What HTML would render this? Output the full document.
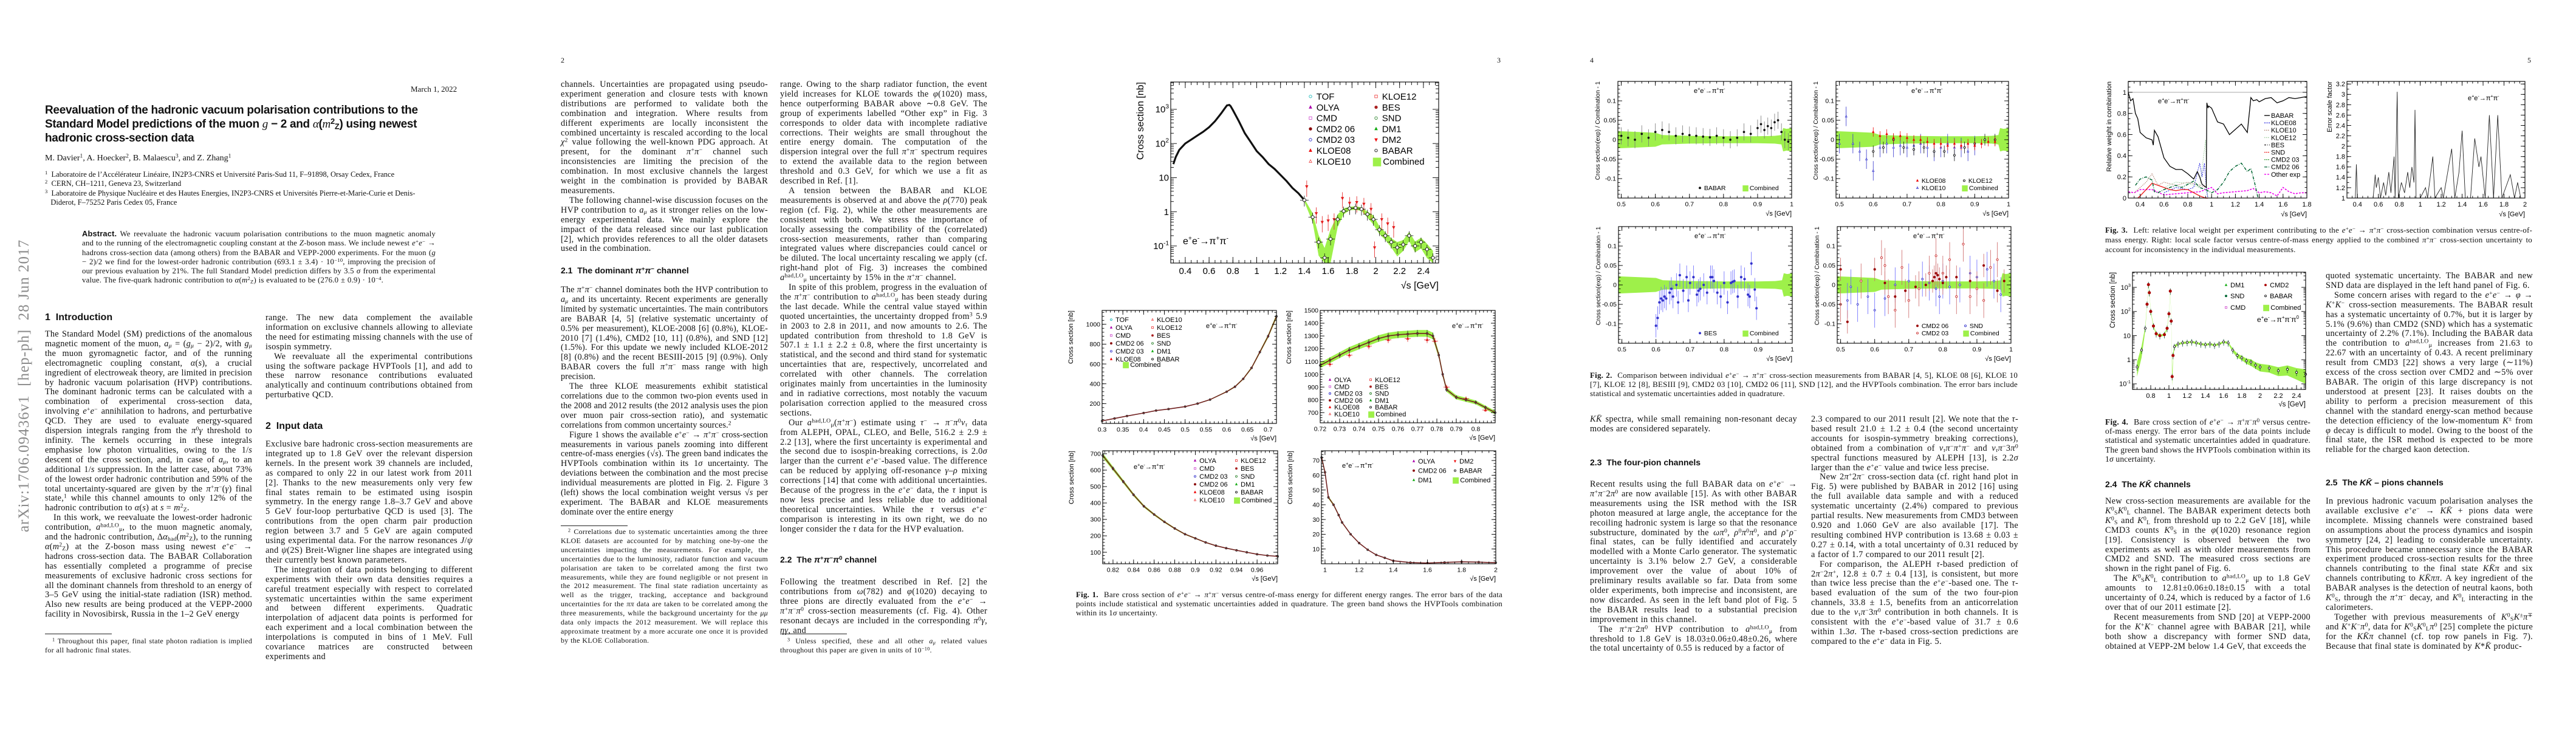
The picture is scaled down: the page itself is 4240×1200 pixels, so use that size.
<!DOCTYPE html>
<html><head><meta charset="utf-8">
<style>
html,body{margin:0;padding:0;background:#fff;}
body{width:4240px;height:1200px;position:relative;overflow:hidden;font-family:"Liberation Serif",serif;color:#111;}
.abs{position:absolute;}
.txt{position:absolute;width:341px;font-size:14.3px;line-height:15.9px;text-align:justify;hyphens:auto;letter-spacing:0.3px;word-spacing:0.3px;}
.txt p{margin:0;text-indent:14px;}
.txt p.ni{text-indent:0;}
.fn{position:absolute;width:341px;font-size:12px;line-height:14.9px;text-align:justify;letter-spacing:0.3px;word-spacing:0.3px;}
.fn p{margin:0;text-indent:12px;}
.rule{position:absolute;width:110px;border-top:1px solid #222;}
.h{position:absolute;font-family:"Liberation Sans",sans-serif;font-weight:bold;font-size:14px;line-height:16px;white-space:nowrap;}
.h1{font-size:16px;}
.cap{position:absolute;font-size:13px;line-height:14.8px;text-align:justify;letter-spacing:0.2px;}
.cap b{font-weight:bold;}
sup{font-size:68%;line-height:0;vertical-align:0.45em;}
sub{font-size:68%;line-height:0;vertical-align:-0.2em;}
i{font-style:italic;}
.pn{position:absolute;font-size:12px;top:92px;}
</style></head>
<body>
<div class="abs" style="left:40px;top:635px;width:540px;margin-left:-270px;margin-top:-14px;transform:rotate(-90deg);font-size:25px;color:#8a8a8a;letter-spacing:1px;white-space:nowrap;text-align:center;">arXiv:1706.09436v1&nbsp; [hep-ph]&nbsp; 28 Jun 2017</div>

<!-- PAGE 1 -->
<div class="abs" style="left:676px;top:139px;font-size:13px;">March 1, 2022</div>
<div class="abs" style="left:74px;top:170px;width:690px;font-family:'Liberation Sans',sans-serif;font-weight:bold;font-size:19px;line-height:23px;letter-spacing:-0.3px;">Reevaluation of the hadronic vacuum polarisation contributions to the Standard Model predictions of the muon <i style="font-family:'Liberation Serif',serif;font-weight:normal">g</i> − 2 and <i style="font-family:'Liberation Serif',serif;font-weight:normal">α</i>(<i style="font-family:'Liberation Serif',serif;font-weight:normal">m</i><sup>2</sup><sub>Z</sub>) using newest hadronic cross-section data</div>
<div class="abs" style="left:74px;top:253px;font-size:14px;">M. Davier<sup>1</sup>, A. Hoecker<sup>2</sup>, B. Malaescu<sup>3</sup>, and Z. Zhang<sup>1</sup></div>
<div class="abs" style="left:74px;top:280px;width:705px;font-size:12.5px;line-height:15.4px;">
<div><sup>1</sup>&nbsp; Laboratoire de l’Accélérateur Linéaire, IN2P3-CNRS et Université Paris-Sud 11, F–91898, Orsay Cedex, France</div>
<div><sup>2</sup>&nbsp; CERN, CH–1211, Geneva 23, Switzerland</div>
<div><sup>3</sup>&nbsp; Laboratoire de Physique Nucléaire et des Hautes Energies, IN2P3-CNRS et Universités Pierre-et-Marie-Curie et Denis-<br>&nbsp;&nbsp;&nbsp;Diderot, F–75252 Paris Cedex 05, France</div></div>
<div class="abs" style="left:135px;top:377px;width:582px;font-size:12.8px;line-height:15.3px;text-align:justify;letter-spacing:0.2px;word-spacing:0.3px;"><b style="font-family:'Liberation Sans',sans-serif;">Abstract.</b> We reevaluate the hadronic vacuum polarisation contributions to the muon magnetic anomaly and to the running of the electromagnetic coupling constant at the <i>Z</i>-boson mass. We include newest <i>e</i><sup>+</sup><i>e</i><sup>−</sup> → hadrons cross-section data (among others) from the BABAR and VEPP-2000 experiments. For the muon (<i>g</i> − 2)/2 we find for the lowest-order hadronic contribution (693.1 ± 3.4) · 10<sup>−10</sup>, improving the precision of our previous evaluation by 21%. The full Standard Model prediction differs by 3.5 <i>σ</i> from the experimental value. The five-quark hadronic contribution to <i>α</i>(<i>m</i><sup>2</sup><sub>Z</sub>) is evaluated to be (276.0 ± 0.9) · 10<sup>−4</sup>.</div>

<div class="h h1" style="left:74px;top:515px;">1&nbsp; Introduction</div>
<div class="txt" style="left:74px;top:543px;letter-spacing:0.2px;"><p class="ni">The Standard Model (SM) predictions of the anomalous magnetic moment of the muon, <i>a<sub>μ</sub></i> = (<i>g<sub>μ</sub></i> − 2)/2, with <i>g<sub>μ</sub></i> the muon gyromagnetic factor, and of the running electromagnetic coupling constant, <i>α</i>(<i>s</i>), a crucial ingredient of electroweak theory, are limited in precision by hadronic vacuum polarisation (HVP) contributions. The dominant hadronic terms can be calculated with a combination of experimental cross-section data, involving <i>e</i><sup>+</sup><i>e</i><sup>−</sup> annihilation to hadrons, and perturbative QCD. They are used to evaluate energy-squared dispersion integrals ranging from the <i>π</i><sup>0</sup><i>γ</i> threshold to infinity. The kernels occurring in these integrals emphasise low photon virtualities, owing to the 1/<i>s</i> descent of the cross section, and, in case of <i>a<sub>μ</sub></i>, to an additional 1/<i>s</i> suppression. In the latter case, about 73% of the lowest order hadronic contribution and 59% of the total uncertainty-squared are given by the <i>π</i><sup>+</sup><i>π</i><sup>−</sup>(<i>γ</i>) final state,<sup>1</sup> while this channel amounts to only 12% of the hadronic contribution to <i>α</i>(<i>s</i>) at <i>s</i> = <i>m</i><sup>2</sup><sub>Z</sub>.</p><p>In this work, we reevaluate the lowest-order hadronic contribution, <i>a</i><sup>had,LO</sup><sub>μ</sub>, to the muon magnetic anomaly, and the hadronic contribution, Δ<i>α</i><sub>had</sub>(<i>m</i><sup>2</sup><sub>Z</sub>), to the running <i>α</i>(<i>m</i><sup>2</sup><sub>Z</sub>) at the Z-boson mass using newest <i>e</i><sup>+</sup><i>e</i><sup>−</sup> → hadrons cross-section data. The BABAR Collaboration has essentially completed a programme of precise measurements of exclusive hadronic cross sections for all the dominant channels from threshold to an energy of 3–5 GeV using the initial-state radiation (ISR) method. Also new results are being produced at the VEPP-2000 facility in Novosibirsk, Russia in the 1–2 GeV energy</p></div>
<div class="rule" style="left:74px;top:1043px;"></div>
<div class="fn" style="left:74px;top:1048px;"><p><sup>1</sup> Throughout this paper, final state photon radiation is implied for all hadronic final states.</p></div>

<div class="txt" style="left:437px;top:516px;"><p class="ni">range. The new data complement the available information on exclusive channels allowing to alleviate the need for estimating missing channels with the use of isospin symmetry.</p><p>We reevaluate all the experimental contributions using the software package HVPTools [1], and add to these narrow resonance contributions evaluated analytically and continuum contributions obtained from perturbative QCD.</p></div>
<div class="h h1" style="left:437px;top:694px;">2&nbsp; Input data</div>
<div class="txt" style="left:437px;top:724px;"><p class="ni">Exclusive bare hadronic cross-section measurements are integrated up to 1.8 GeV over the relevant dispersion kernels. In the present work 39 channels are included, as compared to only 22 in our latest work from 2011 [2]. Thanks to the new measurements only very few final states remain to be estimated using isospin symmetry. In the energy range 1.8–3.7 GeV and above 5 GeV four-loop perturbative QCD is used [3]. The contributions from the open charm pair production region between 3.7 and 5 GeV are again computed using experimental data. For the narrow resonances <i>J</i>/<i>ψ</i> and <i>ψ</i>(2S) Breit-Wigner line shapes are integrated using their currently best known parameters.</p><p>The integration of data points belonging to different experiments with their own data densities requires a careful treatment especially with respect to correlated systematic uncertainties within the same experiment and between different experiments. Quadratic interpolation of adjacent data points is performed for each experiment and a local combination between the interpolations is computed in bins of 1 MeV. Full covariance matrices are constructed between experiments and</p></div>

<!-- PAGE 2 -->
<div class="pn" style="left:923px;">2</div>
<div class="txt" style="left:923px;top:132px;"><p class="ni">channels. Uncertainties are propagated using pseudo-experiment generation and closure tests with known distributions are performed to validate both the combination and integration. Where results from different experiments are locally inconsistent the combined uncertainty is rescaled according to the local <i>χ</i><sup>2</sup> value following the well-known PDG approach. At present, for the dominant <i>π</i><sup>+</sup><i>π</i><sup>−</sup> channel such inconsistencies are limiting the precision of the combination. In most exclusive channels the largest weight in the combination is provided by BABAR measurements.</p><p>The following channel-wise discussion focuses on the HVP contribution to <i>a<sub>μ</sub></i> as it stronger relies on the low-energy experimental data. We mainly explore the impact of the data released since our last publication [2], which provides references to all the older datasets used in the combination.</p></div>
<div class="h" style="left:923px;top:437px;">2.1&nbsp; The dominant <i>π</i><sup>+</sup><i>π</i><sup>−</sup> channel</div>
<div class="txt" style="left:923px;top:470px;letter-spacing:0.1px;word-spacing:0.2px;"><p class="ni">The <i>π</i><sup>+</sup><i>π</i><sup>−</sup> channel dominates both the HVP contribution to <i>a<sub>μ</sub></i> and its uncertainty. Recent experiments are generally limited by systematic uncertainties. The main contributors are BABAR [4, 5] (relative systematic uncertainty of 0.5% per measurement), KLOE-2008 [6] (0.8%), KLOE-2010 [7] (1.4%), CMD2 [10, 11] (0.8%), and SND [12] (1.5%). For this update we newly included KLOE-2012 [8] (0.8%) and the recent BESIII-2015 [9] (0.9%). Only BABAR covers the full <i>π</i><sup>+</sup><i>π</i><sup>−</sup> mass range with high precision.</p><p>The three KLOE measurements exhibit statistical correlations due to the common two-pion events used in the 2008 and 2012 results (the 2012 analysis uses the pion over muon pair cross-section ratio), and systematic correlations from common uncertainty sources.<sup>2</sup></p><p>Figure 1 shows the available <i>e</i><sup>+</sup><i>e</i><sup>−</sup> → <i>π</i><sup>+</sup><i>π</i><sup>−</sup> cross-section measurements in various panels zooming into different centre-of-mass energies (√<i>s</i>). The green band indicates the HVPTools combination within its 1<i>σ</i> uncertainty. The deviations between the combination and the most precise individual measurements are plotted in Fig. 2. Figure 3 (left) shows the local combination weight versus √<i>s</i> per experiment. The BABAR and KLOE measurements dominate over the entire energy</p></div>
<div class="rule" style="left:923px;top:865px;"></div>
<div class="fn" style="left:923px;top:868px;"><p><sup>2</sup> Correlations due to systematic uncertainties among the three KLOE datasets are accounted for by matching one-by-one the uncertainties impacting the measurements. For example, the uncertainties due to the luminosity, radiator function and vacuum polarisation are taken to be correlated among the first two measurements, while they are found negligible or not present in the 2012 measurement. The final state radiation uncertainty as well as the trigger, tracking, acceptance and background uncertainties for the <i>ππ</i> data are taken to be correlated among the three measurements, while the background uncertainty for the <i>μμ</i> data only impacts the 2012 measurement. We will replace this approximate treatment by a more accurate one once it is provided by the KLOE Collaboration.</p></div>

<div class="txt" style="left:1284px;top:132px;"><p class="ni">range. Owing to the sharp radiator function, the event yield increases for KLOE towards the <i>φ</i>(1020) mass, hence outperforming BABAR above ∼0.8 GeV. The group of experiments labelled “Other exp” in Fig. 3 corresponds to older data with incomplete radiative corrections. Their weights are small throughout the entire energy domain. The computation of the dispersion integral over the full <i>π</i><sup>+</sup><i>π</i><sup>−</sup> spectrum requires to extend the available data to the region between threshold and 0.3 GeV, for which we use a fit as described in Ref. [1].</p><p>A tension between the BABAR and KLOE measurements is observed at and above the <i>ρ</i>(770) peak region (cf. Fig. 2), while the other measurements are consistent with both. We stress the importance of locally assessing the compatibility of the (correlated) cross-section measurements, rather than comparing integrated values where discrepancies could cancel or be diluted. The local uncertainty rescaling we apply (cf. right-hand plot of Fig. 3) increases the combined <i>a</i><sup>had,LO</sup><sub>μ</sub> uncertainty by 15% in the <i>π</i><sup>+</sup><i>π</i><sup>−</sup> channel.</p><p>In spite of this problem, progress in the evaluation of the <i>π</i><sup>+</sup><i>π</i><sup>−</sup> contribution to <i>a</i><sup>had,LO</sup><sub>μ</sub> has been steady during the last decade. While the central value stayed within quoted uncertainties, the uncertainty dropped from<sup>3</sup> 5.9 in 2003 to 2.8 in 2011, and now amounts to 2.6. The updated contribution from threshold to 1.8 GeV is 507.1 ± 1.1 ± 2.2 ± 0.8, where the first uncertainty is statistical, and the second and third stand for systematic uncertainties that are, respectively, uncorrelated and correlated with other channels. The correlation originates mainly from uncertainties in the luminosity and in radiative corrections, most notably the vacuum polarisation correction applied to the measured cross sections.</p><p>Our <i>a</i><sup>had,LO</sup><sub>μ</sub>(<i>π</i><sup>+</sup><i>π</i><sup>−</sup>) estimate using <i>τ</i><sup>−</sup> → <i>π</i><sup>−</sup><i>π</i><sup>0</sup><i>ν<sub>τ</sub></i> data from ALEPH, OPAL, CLEO, and Belle, 516.2 ± 2.9 ± 2.2 [13], where the first uncertainty is experimental and the second due to isospin-breaking corrections, is 2.0<i>σ</i> larger than the current <i>e</i><sup>+</sup><i>e</i><sup>−</sup>-based value. The difference can be reduced by applying off-resonance <i>γ</i>–<i>ρ</i> mixing corrections [14] that come with additional uncertainties. Because of the progress in the <i>e</i><sup>+</sup><i>e</i><sup>−</sup> data, the <i>τ</i> input is now less precise and less reliable due to additional theoretical uncertainties. While the <i>τ</i> versus <i>e</i><sup>+</sup><i>e</i><sup>−</sup> comparison is interesting in its own right, we do no longer consider the <i>τ</i> data for the HVP evaluation.</p></div>
<div class="h" style="left:1284px;top:913px;">2.2&nbsp; The <i>π</i><sup>+</sup><i>π</i><sup>−</sup><i>π</i><sup>0</sup> channel</div>
<div class="txt" style="left:1284px;top:951px;"><p class="ni">Following the treatment described in Ref. [2] the contributions from <i>ω</i>(782) and <i>φ</i>(1020) decaying to three pions are directly evaluated from the <i>e</i><sup>+</sup><i>e</i><sup>−</sup> → <i>π</i><sup>+</sup><i>π</i><sup>−</sup><i>π</i><sup>0</sup> cross-section measurements (cf. Fig. 4). Other resonant decays are included in the corresponding <i>π</i><sup>0</sup><i>γ</i>, <i>ηγ</i>, and</p></div>
<div class="rule" style="left:1284px;top:1043px;"></div>
<div class="fn" style="left:1284px;top:1048px;"><p><sup>3</sup> Unless specified, these and all other <i>a<sub>μ</sub></i> related values throughout this paper are given in units of 10<sup>−10</sup>.</p></div>

<!-- PAGE 3 -->
<div class="pn" style="left:2464px;">3</div>
<div class="cap" style="left:1771px;top:972px;width:702px;"><b>Fig. 1.</b>&nbsp; Bare cross section of <i>e</i><sup>+</sup><i>e</i><sup>−</sup> → <i>π</i><sup>+</sup><i>π</i><sup>−</sup> versus centre-of-mass energy for different energy ranges. The error bars of the data points include statistical and systematic uncertainties added in quadrature. The green band shows the HVPTools combination within its 1<i>σ</i> uncertainty.</div>

<!-- PAGE 4 -->
<div class="pn" style="left:2617px;">4</div>
<div class="cap" style="left:2617px;top:611px;width:704px;"><b>Fig. 2.</b>&nbsp; Comparison between individual <i>e</i><sup>+</sup><i>e</i><sup>−</sup> → <i>π</i><sup>+</sup><i>π</i><sup>−</sup> cross-section measurements from BABAR [4, 5], KLOE 08 [6], KLOE 10 [7], KLOE 12 [8], BESIII [9], CMD2 03 [10], CMD2 06 [11], SND [12], and the HVPTools combination. The error bars include statistical and systematic uncertainties added in quadrature.</div>
<div class="txt" style="left:2617px;top:683px;"><p class="ni"><i>KK̄</i> spectra, while small remaining non-resonant decay modes are considered separately.</p></div>
<div class="h" style="left:2617px;top:753px;">2.3&nbsp; The four-pion channels</div>
<div class="txt" style="left:2617px;top:790px;"><p class="ni">Recent results using the full BABAR data on <i>e</i><sup>+</sup><i>e</i><sup>−</sup> → <i>π</i><sup>+</sup><i>π</i><sup>−</sup>2<i>π</i><sup>0</sup> are now available [15]. As with other BABAR measurements using the ISR method with the ISR photon measured at large angle, the acceptance for the recoiling hadronic system is large so that the resonance substructure, dominated by the <i>ωπ</i><sup>0</sup>, <i>ρ</i><sup>0</sup><i>π</i><sup>0</sup><i>π</i><sup>0</sup>, and <i>ρ</i><sup>+</sup><i>ρ</i><sup>−</sup> final states, can be fully identified and accurately modelled with a Monte Carlo generator. The systematic uncertainty is 3.1% below 2.7 GeV, a considerable improvement over the value of about 10% of preliminary results available so far. Data from some older experiments, both imprecise and inconsistent, are now discarded. As seen in the left band plot of Fig. 5 the BABAR results lead to a substantial precision improvement in this channel.</p><p>The <i>π</i><sup>+</sup><i>π</i><sup>−</sup>2<i>π</i><sup>0</sup> HVP contribution to <i>a</i><sup>had,LO</sup><sub>μ</sub> from threshold to 1.8 GeV is 18.03±0.06±0.48±0.26, where the total uncertainty of 0.55 is reduced by a factor of</p></div>
<div class="txt" style="left:2981px;top:683px;"><p class="ni">2.3 compared to our 2011 result [2]. We note that the <i>τ</i>-based result 21.0 ± 1.2 ± 0.4 (the second uncertainty accounts for isospin-symmetry breaking corrections), obtained from a combination of <i>ν<sub>τ</sub>π</i><sup>−</sup><i>π</i><sup>+</sup><i>π</i><sup>−</sup> and <i>ν<sub>τ</sub>π</i><sup>−</sup>3<i>π</i><sup>0</sup> spectral functions measured by ALEPH [13], is 2.2<i>σ</i> larger than the <i>e</i><sup>+</sup><i>e</i><sup>−</sup> value and twice less precise.</p><p>New 2<i>π</i><sup>+</sup>2<i>π</i><sup>−</sup> cross-section data (cf. right hand plot in Fig. 5) were published by BABAR in 2012 [16] using the full available data sample and with a reduced systematic uncertainty (2.4%) compared to previous partial results. New measurements from CMD3 between 0.920 and 1.060 GeV are also available [17]. The resulting combined HVP contribution is 13.68 ± 0.03 ± 0.27 ± 0.14, with a total uncertainty of 0.31 reduced by a factor of 1.7 compared to our 2011 result [2].</p><p>For comparison, the ALEPH <i>τ</i>-based prediction of 2<i>π</i><sup>−</sup>2<i>π</i><sup>+</sup>, 12.8 ± 0.7 ± 0.4 [13], is consistent, but more than twice less precise than the <i>e</i><sup>+</sup><i>e</i><sup>−</sup>-based one. The <i>τ</i>-based evaluation of the sum of the two four-pion channels, 33.8 ± 1.5, benefits from an anticorrelation due to the <i>ν</i><sub>τ</sub><i>π</i><sup>−</sup>3<i>π</i><sup>0</sup> contribution in both channels. It is consistent with the <i>e</i><sup>+</sup><i>e</i><sup>−</sup>-based value of 31.7 ± 0.6 within 1.3<i>σ</i>. The <i>τ</i>-based cross-section predictions are compared to the <i>e</i><sup>+</sup><i>e</i><sup>−</sup> data in Fig. 5.</p></div>

<!-- PAGE 5 -->
<div class="pn" style="left:4160px;">5</div>
<div class="cap" style="left:3465px;top:371px;width:703px;line-height:16px;"><b>Fig. 3.</b>&nbsp; Left: relative local weight per experiment contributing to the <i>e</i><sup>+</sup><i>e</i><sup>−</sup> → <i>π</i><sup>+</sup><i>π</i><sup>−</sup> cross-section combination versus centre-of-mass energy. Right: local scale factor versus centre-of-mass energy applied to the combined <i>π</i><sup>+</sup><i>π</i><sup>−</sup> cross-section uncertainty to account for inconsistency in the individual measurements.</div>
<div class="cap" style="left:3465px;top:687px;width:338px;font-size:13.5px;line-height:15.2px;"><b>Fig. 4.</b>&nbsp; Bare cross section of <i>e</i><sup>+</sup><i>e</i><sup>−</sup> → <i>π</i><sup>+</sup><i>π</i><sup>−</sup><i>π</i><sup>0</sup> versus centre-of-mass energy. The error bars of the data points include statistical and systematic uncertainties added in quadrature. The green band shows the HVPTools combination within its 1<i>σ</i> uncertainty.</div>
<div class="txt" style="left:3828px;top:447px;"><p class="ni">quoted systematic uncertainty. The BABAR and new SND data are displayed in the left hand panel of Fig. 6.</p><p>Some concern arises with regard to the <i>e</i><sup>+</sup><i>e</i><sup>−</sup> → <i>φ</i> → <i>K</i><sup>+</sup><i>K</i><sup>−</sup> cross-section measurements. The BABAR result has a systematic uncertainty of 0.7%, but it is larger by 5.1% (9.6%) than CMD2 (SND) which has a systematic uncertainty of 2.2% (7.1%). Including the BABAR data the contribution to <i>a</i><sup>had,LO</sup><sub>μ</sub> increases from 21.63 to 22.67 with an uncertainty of 0.43. A recent preliminary result from CMD3 [22] shows a very large (∼11%) excess of the cross section over CMD2 and ∼5% over BABAR. The origin of this large discrepancy is not understood at present [23]. It raises doubts on the ability to perform a precision measurement of this channel with the standard energy-scan method because the detection efficiency of the low-momentum <i>K</i><sup>±</sup> from <i>φ</i> decay is difficult to model. Owing to the boost of the final state, the ISR method is expected to be more reliable for the charged kaon detection.</p></div>
<div class="h" style="left:3465px;top:789px;">2.4&nbsp; The <i>KK̄</i> channels</div>
<div class="h" style="left:3828px;top:786px;">2.5&nbsp; The <i>KK̄</i> – pions channels</div>
<div class="txt" style="left:3465px;top:818px;width:338px;"><p class="ni">New cross-section measurements are available for the <i>K</i><sup>0</sup><sub>S</sub><i>K</i><sup>0</sup><sub>L</sub> channel. The BABAR experiment detects both <i>K</i><sup>0</sup><sub>S</sub> and <i>K</i><sup>0</sup><sub>L</sub> from threshold up to 2.2 GeV [18], while CMD3 counts <i>K</i><sup>0</sup><sub>S</sub> in the <i>φ</i>(1020) resonance region [19]. Consistency is observed between the two experiments as well as with older measurements from CMD2 and SND. The measured cross sections are shown in the right panel of Fig. 6.</p><p>The <i>K</i><sup>0</sup><sub>S</sub><i>K</i><sup>0</sup><sub>L</sub> contribution to <i>a</i><sup>had,LO</sup><sub>μ</sub> up to 1.8 GeV amounts to 12.81±0.06±0.18±0.15 with a total uncertainty of 0.24, which is reduced by a factor of 1.6 over that of our 2011 estimate [2].</p><p>Recent measurements from SND [20] at VEPP-2000 for the <i>K</i><sup>+</sup><i>K</i><sup>−</sup> channel agree with BABAR [21], while both show a discrepancy with former SND data, obtained at VEPP-2M below 1.4 GeV, that exceeds the</p></div>
<div class="txt" style="left:3828px;top:818px;"><p class="ni">In previous hadronic vacuum polarisation analyses the available exclusive <i>e</i><sup>+</sup><i>e</i><sup>−</sup> → <i>KK̄</i> + pions data were incomplete. Missing channels were constrained based on assumptions about the process dynamics and isospin symmetry [24, 2] leading to considerable uncertainty. This procedure became unnecessary since the BABAR experiment produced cross-section results for the three channels contributing to the final state <i>KK̄π</i> and six channels contributing to <i>KK̄ππ</i>. A key ingredient of the BABAR analyses is the detection of neutral kaons, both <i>K</i><sup>0</sup><sub>S</sub>, through the <i>π</i><sup>+</sup><i>π</i><sup>−</sup> decay, and <i>K</i><sup>0</sup><sub>L</sub> interacting in the calorimeters.</p><p>Together with previous measurements of <i>K</i><sup>0</sup><sub>S</sub><i>K</i><sup>±</sup><i>π</i><sup>∓</sup> and <i>K</i><sup>+</sup><i>K</i><sup>−</sup><i>π</i><sup>0</sup>, data for <i>K</i><sup>0</sup><sub>S</sub><i>K</i><sup>0</sup><sub>L</sub><i>π</i><sup>0</sup> [25] complete the picture for the <i>KK̄π</i> channel (cf. top row panels in Fig. 7). Because that final state is dominated by <i>K</i>*<i>K̄</i> produc-</p></div>

<svg id="charts" xmlns="http://www.w3.org/2000/svg" width="4240" height="1200" style="position:absolute;left:0;top:0;font-family:'Liberation Sans',sans-serif;"></svg>

<script>
// ===== Fig.1 data (e+e- -> pi+pi- cross section, nb) =====
const f1aX=[0.3,0.32,0.35,0.4,0.45,0.5,0.55,0.6,0.65,0.7,0.73,0.75,0.77,0.78,0.8,0.85,0.9,0.95,1.0,1.05,1.1,1.15,1.2,1.25,1.3,1.35,1.4,1.47,1.52,1.57,1.62,1.68,1.73,1.78,1.83,1.88,1.93,1.98,2.03,2.08,2.13,2.18,2.23,2.28,2.33,2.38,2.43,2.48];
const f1aY=[25,40,65,100,130,170,220,300,450,750,1050,1300,1350,1250,950,450,200,110,60,40,25,18,12,8,5,3.5,2.2,0.7,0.13,0.045,0.16,0.6,1.05,1.25,1.3,1.2,0.85,0.6,0.3,0.2,0.13,0.09,0.11,0.2,0.1,0.13,0.08,0.045];
const f1aB=[0.05,0.05,0.05,0.05,0.05,0.05,0.05,0.05,0.05,0.05,0.05,0.05,0.05,0.05,0.05,0.05,0.05,0.05,0.05,0.05,0.05,0.05,0.05,0.05,0.05,0.08,0.1,0.3,0.6,0.95,0.9,0.4,0.2,0.12,0.12,0.12,0.2,0.3,0.25,0.25,0.3,0.45,0.35,0.3,0.35,0.35,0.45,0.6];
const f1aDm2X=[1.42,1.5,1.55,1.6,1.65,1.72,1.78,1.84,1.9,1.96,1.99,2.05,2.1,2.15];
const f1aDm2Y=[5.5,0.9,0.5,0.55,0.6,2.5,1.8,1.9,1.7,1.2,0.09,0.6,0.45,0.35];
const f1bX=[0.3,0.33,0.36,0.4,0.43,0.46,0.5,0.53,0.56,0.6,0.62,0.64,0.66,0.68,0.7,0.72];
const f1bY=[25,50,75,105,130,145,170,200,240,320,370,450,560,720,880,1080];
const f1cX=[0.72,0.725,0.73,0.735,0.74,0.745,0.75,0.755,0.76,0.765,0.77,0.775,0.778,0.781,0.783,0.785,0.79,0.795,0.8,0.805,0.81];
const f1cY=[1070,1110,1150,1190,1220,1250,1280,1300,1310,1315,1320,1320,1300,1150,1000,880,820,800,780,740,700];
const f1cKX=[0.725,0.735,0.745,0.755,0.765,0.775,0.779,0.785,0.795,0.805];
const f1cKY=[1080,1150,1220,1270,1280,1270,1260,900,810,720];
const f1dX=[0.81,0.82,0.83,0.84,0.85,0.86,0.87,0.88,0.89,0.9,0.91,0.92,0.93,0.94,0.95,0.96,0.97,0.98];
const f1dY=[690,610,530,450,380,330,285,245,210,185,160,140,125,112,100,88,80,75];
const f1eX=[0.98,1.0,1.02,1.05,1.08,1.1,1.15,1.2,1.25,1.3,1.35,1.4,1.5,1.6,1.7,1.8,1.9,2.0];
const f1eY=[72,62,45,40,33,28,20,14,9.5,6,4,2,0.8,0.5,0.9,1.3,1.1,0.7];
// ===== Fig.2 data (ratio to combination - 1) =====
const f2BandX=[0.49,0.55,0.6,0.62,0.7,0.8,0.9,0.95,0.97,0.975,0.985,1.0];
const f2BandW=[0.022,0.02,0.018,0.012,0.01,0.009,0.009,0.01,0.012,0.03,0.028,0.03];
const babarX=[0.50,0.52,0.54,0.56,0.58,0.60,0.62,0.64,0.66,0.68,0.70,0.72,0.74,0.76,0.78,0.80,0.82,0.84,0.86,0.88,0.90,0.91,0.92,0.93,0.94,0.95,0.96,0.97,0.98,0.99];
const babarY=[0.01,0.005,0.0,0.015,0.005,0.02,0.025,0.02,0.01,0.015,0.012,0.01,0.008,0.006,0.01,0.005,0.0,0.005,0.02,0.015,0.03,0.04,0.025,0.035,0.03,0.045,0.05,0.02,0.0,-0.005];
const kloe08X=[0.6,0.62,0.64,0.66,0.68,0.7,0.72,0.74,0.76,0.78,0.8,0.82,0.84,0.86,0.88,0.9,0.92,0.94,0.96];
const kloe08Y=[0.02,0.01,0.015,0.005,0.01,0.005,0.0,0.0,-0.005,-0.01,-0.01,-0.015,-0.01,-0.015,-0.01,-0.015,-0.01,-0.005,-0.005];
const kloe10X=[0.5,0.52,0.54,0.56,0.58,0.6,0.62,0.64,0.66,0.68,0.7,0.72,0.74,0.76,0.78,0.8,0.82,0.84,0.86,0.88,0.9];
const kloe10Y=[-0.01,0.06,-0.01,-0.03,-0.05,-0.08,-0.02,-0.01,-0.02,-0.015,-0.02,-0.015,-0.01,-0.02,-0.03,-0.02,-0.01,-0.02,-0.02,-0.03,-0.015];
const kloe12X=[0.6,0.63,0.66,0.69,0.72,0.75,0.78,0.81,0.84,0.87,0.9,0.93,0.96];
const kloe12Y=[-0.03,-0.02,0.0,-0.02,-0.025,-0.02,-0.03,-0.03,-0.04,-0.02,-0.01,0.0,0.0];
const besX=[0.6,0.605,0.61,0.615,0.62,0.625,0.63,0.64,0.645,0.65,0.66,0.665,0.67,0.68,0.69,0.695,0.7,0.71,0.72,0.725,0.73,0.74,0.75,0.76,0.765,0.77,0.78,0.79,0.8,0.81,0.82,0.825,0.83,0.84,0.85,0.86,0.87,0.875,0.88,0.89,0.895];
const besY=[-0.105,-0.085,-0.045,-0.035,-0.04,-0.03,-0.035,-0.02,-0.01,-0.03,0.0,-0.045,0.025,-0.015,0.02,-0.04,0.005,0.02,-0.025,-0.015,-0.01,0.0,-0.02,0.02,0.02,0.01,-0.02,-0.03,0.005,-0.045,0.005,0.008,0.01,-0.03,0.02,0.015,-0.025,-0.03,0.055,-0.012,-0.06];
const cmd206X=[0.5,0.52,0.6,0.63,0.66,0.69,0.72,0.75,0.77,0.775,0.78,0.785,0.79,0.8,0.81,0.84,0.88,0.92,0.96,0.98];
const cmd206Y=[0.04,-0.095,0.04,0.005,-0.03,-0.015,-0.005,0.0,0.01,0.02,0.03,0.025,0.015,0.005,0.02,0.02,0.01,0.05,-0.015,0.01];
const cmd203X=[0.5,0.56,0.62,0.63,0.64,0.66,0.68,0.7,0.73,0.76,0.78,0.8,0.82,0.84,0.86,0.88,0.9,0.92,0.94,0.96];
const cmd203Y=[-0.05,0.01,0.07,0.05,-0.03,-0.065,0.045,-0.04,-0.01,0.03,0.075,0.03,0.065,-0.03,0.105,-0.03,-0.01,-0.04,0.045,0.065];
const sndX=[0.52,0.53,0.55,0.58,0.6,0.63,0.66,0.7,0.74,0.76,0.78,0.79,0.8,0.82,0.85,0.88,0.9,0.93,0.95,0.97];
const sndY=[-0.04,-0.005,-0.05,-0.03,-0.065,-0.035,0.0,0.01,0.015,0.005,-0.01,-0.03,0.01,-0.005,0.0,0.03,0.02,0.04,0.01,-0.025];
// ===== Fig.3 data =====
const wBabarX=[0.3,0.32,0.34,0.36,0.38,0.4,0.45,0.5,0.51,0.52,0.55,0.6,0.65,0.7,0.75,0.8,0.85,0.88,0.9,0.92,0.955,0.96,0.97,0.975,1.0,1.05,1.1,1.15,1.2,1.25,1.3,1.33,1.35,1.38,1.4,1.45,1.5,1.55,1.6,1.65,1.7,1.75,1.8];
const wBabarY=[1.0,0.92,0.94,0.8,0.75,0.62,0.57,0.55,0.5,0.64,0.58,0.38,0.3,0.27,0.27,0.23,0.18,0.25,0.2,0.13,0.1,0.9,0.85,0.87,0.85,0.72,0.7,0.6,0.65,0.7,0.62,0.95,0.92,0.93,0.91,0.94,0.95,0.9,0.92,0.95,0.94,0.95,0.96];
const wCmd206X=[0.36,0.4,0.45,0.5,0.52,0.55,0.6,0.65,0.7,0.75,0.8,0.85,0.9,0.95,1.0,1.05,1.1,1.15,1.2,1.25,1.3,1.33,1.36,1.38,1.39];
const wCmd206Y=[0.12,0.18,0.2,0.17,0.06,0.05,0.08,0.1,0.12,0.1,0.13,0.16,0.1,0.08,0.05,0.08,0.15,0.25,0.3,0.33,0.25,0.28,0.15,0.05,0.0];
const wSndX=[0.38,0.4,0.45,0.5,0.55,0.6,0.65,0.7,0.75,0.8,0.85,0.9,0.95,0.97];
const wSndY=[0.0,0.02,0.08,0.14,0.12,0.1,0.08,0.07,0.08,0.08,0.05,0.02,0.0,0.0];
const wOtherX=[0.3,0.35,0.4,0.5,0.6,0.7,0.8,0.9,0.95,1.0,1.05,1.1,1.2,1.3,1.35,1.4,1.45,1.5,1.55,1.6,1.65,1.7,1.75,1.8];
const wOtherY=[0.06,0.05,0.08,0.08,0.03,0.04,0.05,0.06,0.08,0.1,0.04,0.05,0.06,0.07,0.09,0.05,0.06,0.05,0.02,0.1,0.06,0.04,0.05,0.05];
const wKloe08X=[0.6,0.7,0.8,0.85,0.9,0.92,0.94,0.96,0.97];
const wKloe08Y=[0.05,0.1,0.08,0.1,0.33,0.2,0.33,0.05,0.0];
const wKloe10X=[0.35,0.4,0.45,0.5,0.55,0.6,0.7,0.8,0.9,0.95];
const wKloe10Y=[0.05,0.1,0.15,0.23,0.12,0.15,0.12,0.15,0.12,0.1];
const wKloe12X=[0.6,0.7,0.8,0.9,0.95,0.96,0.97];
const wKloe12Y=[0.1,0.15,0.14,0.1,0.55,0.1,0.0];
const sfX=[0.3,0.38,0.39,0.4,0.55,0.57,0.58,0.6,0.62,0.65,0.67,0.7,0.72,0.75,0.76,0.78,0.79,0.82,0.85,0.88,0.9,0.92,0.94,0.95,0.96,1.0,1.05,1.07,1.12,1.14,1.2,1.22,1.3,1.33,1.37,1.4,1.43,1.48,1.52,1.56,1.58,1.62,1.66,1.7,1.74,1.78,1.86,1.9,1.93,1.96,2.0];
const sfY=[1,1,1.65,1,1,1.45,1.2,1.4,1,1.3,1.05,1.5,1.1,1.8,1,3.05,1,1.3,1.1,1.5,1.2,1.6,1.3,2.7,1,1,1.2,1,1.8,1,1.2,1,1.95,1,1.5,2.3,1,1,2.15,1.6,1.8,1,2.6,1,2.6,1,1.45,1,1.3,1,1];
// ===== Fig.4 data (pi+pi-pi0) =====
const f4X=[0.65,0.7,0.74,0.76,0.775,0.785,0.8,0.83,0.86,0.9,0.95,0.98,1.0,1.015,1.025,1.035,1.045,1.06,1.1,1.15,1.2,1.25,1.3,1.35,1.4,1.45,1.5,1.55,1.6,1.65,1.7,1.75,1.8,1.85,1.9,1.95,2.0,2.1,2.2,2.3,2.4,2.5];
const f4Y=[0.5,2.5,20,200,1300,600,100,25,12,10,11,20,80,700,40,0.2,1.5,3.5,4.5,5,5.2,5.5,5,4.5,4.2,4.5,4,4.5,5.5,5,2.5,1.5,1.2,0.9,0.8,0.6,0.5,0.45,0.35,0.4,0.3,0.25];
const f4B=[0.6,0.5,0.2,0.1,0.1,0.1,0.1,0.1,0.1,0.1,0.1,0.1,0.1,0.1,0.2,0.6,0.3,0.15,0.1,0.1,0.1,0.1,0.1,0.1,0.1,0.1,0.1,0.1,0.1,0.1,0.15,0.2,0.2,0.25,0.3,0.3,0.35,0.35,0.4,0.45,0.5,0.6];

// ===== Tick label arrays =====
const f1aXT=[0.4,0.6,0.8,1,1.2,1.4,1.6,1.8,2,2.2,2.4], f1aXL=['0.4','0.6','0.8','1','1.2','1.4','1.6','1.8','2','2.2','2.4'];
const logYT=[0.1,1,10,100,1000], logYL=['10^-1','1','10','10^2','10^3'];
const f1bXT=[0.3,0.35,0.4,0.45,0.5,0.55,0.6,0.65,0.7], f1bXL=['0.3','0.35','0.4','0.45','0.5','0.55','0.6','0.65','0.7'];
const f1bYT=[200,400,600,800,1000], f1bYL=['200','400','600','800','1000'];
const f1cXT=[0.72,0.73,0.74,0.75,0.76,0.77,0.78,0.79,0.8], f1cXL=['0.72','0.73','0.74','0.75','0.76','0.77','0.78','0.79','0.8'];
const f1cYT=[700,800,900,1000,1100,1200,1300,1400,1500], f1cYL=['700','800','900','1000','1100','1200','1300','1400','1500'];
const f1dXT=[0.82,0.84,0.86,0.88,0.9,0.92,0.94,0.96], f1dXL=['0.82','0.84','0.86','0.88','0.9','0.92','0.94','0.96'];
const f1dYT=[100,200,300,400,500,600,700], f1dYL=['100','200','300','400','500','600','700'];
const f1eXT=[1,1.2,1.4,1.6,1.8,2], f1eXL=['1','1.2','1.4','1.6','1.8','2'];
const f1eYT=[10,20,30,40,50,60,70], f1eYL=['10','20','30','40','50','60','70'];
const f2XT=[0.5,0.6,0.7,0.8,0.9,1], f2XL=['0.5','0.6','0.7','0.8','0.9','1'];
const f2YT=[-0.1,-0.05,0,0.05,0.1], f2YL=['-0.1','-0.05','0','0.05','0.1'];
const f3aXT=[0.4,0.6,0.8,1,1.2,1.4,1.6,1.8], f3aXL=['0.4','0.6','0.8','1','1.2','1.4','1.6','1.8'];
const f3aYT=[0,0.2,0.4,0.6,0.8,1], f3aYL=['0','0.2','0.4','0.6','0.8','1'];
const f3bXT=[0.4,0.6,0.8,1,1.2,1.4,1.6,1.8,2], f3bXL=['0.4','0.6','0.8','1','1.2','1.4','1.6','1.8','2'];
const f3bYT=[1,1.2,1.4,1.6,1.8,2,2.2,2.4,2.6,2.8,3,3.2], f3bYL=['1','1.2','1.4','1.6','1.8','2','2.2','2.4','2.6','2.8','3','3.2'];
const f4XT=[0.8,1,1.2,1.4,1.6,1.8,2,2.2,2.4], f4XL=['0.8','1','1.2','1.4','1.6','1.8','2','2.2','2.4'];

// ===== helpers =====
const NS='http://www.w3.org/2000/svg';
const svg=document.getElementById('charts');
const GREEN='#9ef04a';
function mk(tag,attrs,parent){const e=document.createElementNS(NS,tag);for(const k in attrs)e.setAttribute(k,attrs[k]);(parent||svg).appendChild(e);return e;}
function lin(d0,d1,r0,r1){const f=v=>r0+(v-d0)/(d1-d0)*(r1-r0);f.d=[d0,d1];f.log=false;return f;}
function lg(d0,d1,r0,r1){const a=Math.log10(d0),b=Math.log10(d1);const f=v=>r0+(Math.log10(Math.max(v,1e-9))-a)/(b-a)*(r1-r0);f.d=[d0,d1];f.log=true;return f;}
function clamp(v,a,b){return Math.max(Math.min(a,b),Math.min(Math.max(a,b),v));}
function label(parent,x,y,str,fs,anchor){
  const t=mk('text',{x:x,y:y,'font-size':fs,'text-anchor':anchor||'middle',fill:'#000'},parent);
  if(str.indexOf('^')>=0){const p=str.split('^');t.appendChild(document.createTextNode(p[0]));const s=mk('tspan',{dy:-fs*0.45,'font-size':fs*0.68},t);s.textContent=p[1];}
  else t.textContent=str;
  return t;
}
function proc(parent,x,y,fs,extra){
  const parts=[['e',0],['+',1],['e',0],['-',1],['→π',0],['+',1],['π',0],['-',1]];
  if(extra) parts.push(['π',0],['0',1]);
  const t=mk('text',{x:x,y:y,'font-size':fs,fill:'#000'},parent);
  let up=false;
  parts.forEach(p=>{const s=mk('tspan',{},t);s.textContent=p[0];
    if(p[1]&&!up){s.setAttribute('dy',-fs*0.4);s.setAttribute('font-size',fs*0.65);up=true;}
    else if(p[1]&&up){s.setAttribute('font-size',fs*0.65);}
    else if(!p[1]&&up){s.setAttribute('dy',fs*0.4);up=false;}});
  
  
  return t;
}
function axes(name,box,sx,sy,xt,xl,yt,yl,o){
  const g=mk('g',{});
  
  
  const [x0,y0,x1,y1]=box, fs=o.fs||10.5, tl=o.tl||7;
  const frame=mk('rect',{x:x0,y:y0,width:x1-x0,height:y1-y0,fill:'none',stroke:'#000','stroke-width':1.1},g);
  
  
  const tk=(a,b,c,d)=>mk('line',{x1:a,y1:b,x2:c,y2:d,stroke:'#000','stroke-width':0.9},g);
  const xs=(xt[1]-xt[0])/(o.xm||5);
  for(let v=xt[0]-xs*20;v<=sx.d[1]+1e-9;v+=xs){if(v<sx.d[0]-1e-9)continue;const X=sx(v);tk(X,y1,X,y1-tl/2);tk(X,y0,X,y0+tl/2);}
  xt.forEach((v,i)=>{const X=sx(v);tk(X,y1,X,y1-tl);tk(X,y0,X,y0+tl);
    const t=label(g,X,y1+fs+3,xl[i],fs);});
  if(sy.log){const a=Math.floor(Math.log10(sy.d[0])),b=Math.ceil(Math.log10(sy.d[1]));
    for(let e=a;e<=b;e++)for(let m=1;m<10;m++){const v=m*Math.pow(10,e);if(v<sy.d[0]||v>sy.d[1])continue;const Y=sy(v);const L=m===1?tl:tl/2;tk(x0,Y,x0+L,Y);tk(x1,Y,x1-L,Y);}}
  else{const ys=(yt[1]-yt[0])/(o.ym||5);
    for(let v=yt[0]-ys*40;v<=sy.d[1]+1e-9;v+=ys){if(v<sy.d[0]-1e-9)continue;const Y=sy(v);tk(x0,Y,x0+tl/2,Y);tk(x1,Y,x1-tl/2,Y);}
    yt.forEach(v=>{const Y=sy(v);tk(x0,Y,x0+tl,Y);tk(x1,Y,x1-tl,Y);});}
  yt.forEach((v,i)=>{const t=label(g,x0-3,sy(v)+fs*0.35,yl[i],fs,'end');});
  const xtit=label(g,x1,y1+(o.xto||28),'√s  [GeV]',o.tfs||fs,'end');
  
  
  xtit.setAttribute('xml:space','preserve');
  const yx=o.ytx, yy=y0;
  const ytit=mk('text',{x:0,y:0,'font-size':o.ytfs||fs,'text-anchor':'end',transform:`translate(${yx},${yy}) rotate(-90)`},g);
  ytit.textContent=o.ytitle||'Cross section   [nb]';
  ytit.setAttribute('xml:space','preserve');
  
  
  return g;
}
function bandRel(g,xs,ys,bs,sx,sy,box){
  let up='',lo='';
  xs.forEach((x,i)=>{const X=sx(x);const U=clamp(sy(ys[i]*(1+bs[i])),box[1],box[3]);const L=clamp(sy(ys[i]*(1-bs[i])),box[1],box[3]);up+=(i?'L':'M')+X.toFixed(1)+','+U.toFixed(1);lo='L'+X.toFixed(1)+','+L.toFixed(1)+lo;});
  const p=mk('path',{d:up+lo+'Z',fill:GREEN,stroke:'none'},g);
  
  
  return p;
}
function bandAbs(g,xs,ws,sx,sy,box){
  let up='',lo='';
  xs.forEach((x,i)=>{const X=clamp(sx(x),box[0],box[2]);up+=(i?'L':'M')+X.toFixed(1)+','+sy(ws[i]).toFixed(1);lo='L'+X.toFixed(1)+','+sy(-ws[i]).toFixed(1)+lo;});
  const p=mk('path',{d:up+lo+'Z',fill:GREEN,stroke:'none'},g);
  
  
  return p;
}
function marker(g,shape,X,Y,color,r){
  let m;
  if(shape==='tri'||shape==='otri'){m=mk('path',{d:`M${X},${Y-r*1.2}L${X+r},${Y+r*0.8}L${X-r},${Y+r*0.8}Z`,fill:shape==='tri'?color:'#fff',stroke:color,'stroke-width':0.8},g);}
  else if(shape==='dtri'){m=mk('path',{d:`M${X},${Y+r*1.2}L${X+r},${Y-r*0.8}L${X-r},${Y-r*0.8}Z`,fill:color,stroke:color,'stroke-width':0.8},g);}
  else if(shape==='sq'){m=mk('rect',{x:X-r,y:Y-r,width:2*r,height:2*r,fill:'#fff',stroke:color,'stroke-width':0.8},g);}
  else m=mk('circle',{cx:X,cy:Y,r:r,fill:shape==='fc'?color:'#fff',stroke:color,'stroke-width':0.9},g);
  return m;
}
function series(g,name,xs,ys,sx,sy,st,box){
  const sg=mk('g',{},g);
  
  
  xs.forEach((x,i)=>{
    const X=sx(x),Y=sy(ys[i]);
    if(Y<box[1]-2||Y>box[3]+2) return;
    if(st.err){let a,b;if(st.rel){a=sy(ys[i]*(1+st.err));b=sy(Math.max(ys[i]*(1-st.err),1e-9));}else{a=sy(ys[i]+st.err);b=sy(ys[i]-st.err);}
      const e=mk('line',{x1:X,x2:X,y1:clamp(a,box[1],box[3]),y2:clamp(b,box[1],box[3]),stroke:st.ec||st.color,'stroke-width':0.8},sg);
      
      }
    if(st.xerr){const h=mk('line',{x1:X-st.xerr,x2:X+st.xerr,y1:Y,y2:Y,stroke:st.color,'stroke-width':0.8},sg);
      
      }
    const m=marker(sg,st.shape,X,Y,st.color,st.r||1.6);
    
    
  });
  return sg;
}
function curve(g,name,xs,ys,sx,sy,st){
  const d=xs.map((x,i)=>(i?'L':'M')+sx(x).toFixed(1)+','+sy(ys[i]).toFixed(1)).join('');
  const p=mk('path',{d:d,fill:'none',stroke:st.color,'stroke-width':st.w||1.2,'stroke-dasharray':st.dash||'none'},g);
  
  
  return p;
}
function leg(g,x,y,shape,color,text,fs,r){
  const lgp=mk('g',{},g);
  
  
  if(shape==='band'){mk('rect',{x:x-fs*0.35,y:y-fs*0.75,width:fs*0.9,height:fs*0.95,fill:GREEN},lgp);label(lgp,x+fs*0.75,y,text,fs,'start');}
  else if(shape==='line'){mk('line',{x1:x-10,x2:x-1,y1:y-fs*0.35,y2:y-fs*0.35,stroke:color.c,'stroke-width':1.3,'stroke-dasharray':color.d||'none'},lgp);label(lgp,x+1,y,text,fs,'start');}
  else{marker(lgp,shape,x,y-fs*0.35,color,r||fs*0.15);label(lgp,x+fs*0.65,y,text,fs,'start');}
}

// ===== Fig.1 top (log) =====
(function(){
  const box=[1927,135,2368,433];
  const sx=lin(0.278,2.528,box[0],box[2]), sy=lg(Math.pow(10,-1.5),Math.pow(10,3.8),box[3],box[1]);
  const g=mk('g',{});
  
  
  bandRel(g,f1aX,f1aY,f1aB,sx,sy,box);
  series(g,'dm2-points',f1aDm2X,f1aDm2Y,sx,sy,{shape:'dtri',color:'#e41b1b',r:2,err:0.5,rel:true},box);
  curve(g,'dense-data-line',f1aX.slice(0,27),f1aY.slice(0,27),sx,sy,{color:'#111',w:3.2});
  series(g,'babar-points',f1aX.slice(26),f1aY.slice(26),sx,sy,{shape:'oc',color:'#111',r:2.6,err:0.35,rel:true,xerr:7},box);
  axes('fig1-top-axes',box,sx,sy,f1aXT,f1aXL,logYT,logYL,{fs:15,tl:10,xto:42,tfs:16,ytx:1882,ytfs:16,xm:4});
  proc(g,1947,402,16);
  const L=[['oc','#2bb','TOF'],['tri','#a0a','OLYA'],['sq','#c4c','CMD'],['fc','#800','CMD2 06'],['oc','#33c','CMD2 03'],['tri','#e00','KLOE08'],['otri','#e44','KLOE10']];
  const R=[['sq','#e33','KLOE12'],['fc','#a22','BES'],['oc','#383','SND'],['tri','#1a1','DM1'],['dtri','#e11','DM2'],['oc','#111','BABAR'],['band','','Combined']];
  L.forEach((e,i)=>leg(g,2157,164+i*17.8,e[0],e[1],e[2],15,2.2));
  R.forEach((e,i)=>leg(g,2265,164+i*17.8,e[0],e[1],e[2],15,2.2));
})();
// ===== Fig.1 middle/bottom panels =====
function f1panel(name,box,xd,yd,X,Y,XT,XL,YT,YL,legL,legR,lx,ly,lsp,px,py,extraX,extraY){
  const sx=lin(xd[0],xd[1],box[0],box[2]), sy=lin(yd[0],yd[1],box[3],box[1]);
  const g=mk('g',{});
  
  
  const bs=X.map(()=>0.02);
  bandRel(g,X,Y,bs,sx,sy,box);
  if(extraX) series(g,'kloe-points',extraX,extraY,sx,sy,{shape:'tri',color:'#e02020',r:1.8,err:0.02,rel:true,xerr:5},box);
  series(g,'data-points',X,Y,sx,sy,{shape:'oc',color:'#222',r:1.5,err:0.02,rel:true},box);
  curve(g,'data-trend',X,Y,sx,sy,{color:'#702020',w:1.6});
  axes(name+'-axes',box,sx,sy,XT,XL,YT,YL,{fs:10.5,tl:7,xto:28,tfs:11,ytx:box[0]-48,ytfs:11});
  proc(g,px,py,11);
  legL.forEach((e,i)=>leg(g,lx[0],ly+i*lsp,e[0],e[1],e[2],11,1.5));
  legR.forEach((e,i)=>leg(g,lx[1],ly+i*lsp,e[0],e[1],e[2],11,1.5));
}
f1panel('fig1-panel-low',[1814,511,2101,697],[0.3,0.72],[0,1140],f1bX,f1bY,f1bXT,f1bXL,f1bYT,f1bYL,
  [['oc','#2bb','TOF'],['tri','#a0a','OLYA'],['sq','#c4c','CMD'],['fc','#800','CMD2 06'],['oc','#33c','CMD2 03'],['tri','#e00','KLOE08']],
  [['otri','#e44','KLOE10'],['sq','#e33','KLOE12'],['fc','#a22','BES'],['oc','#383','SND'],['tri','#1a1','DM1'],['oc','#111','BABAR']],[1829,1897],530,13,1985,540);
leg(svg,1852,604,'band','','Combined',11);
f1panel('fig1-panel-rho',[2173,511,2461,696],[0.72,0.81],[620,1500],f1cX,f1cY,f1cXT,f1cXL,f1cYT,f1cYL,
  [['tri','#a0a','OLYA'],['sq','#c4c','CMD'],['oc','#33c','CMD2 03'],['fc','#800','CMD2 06'],['tri','#e00','KLOE08'],['otri','#e44','KLOE10']],
  [['sq','#e33','KLOE12'],['fc','#a22','BES'],['oc','#383','SND'],['tri','#1a1','DM1'],['oc','#111','BABAR'],['band','','Combined']],[2189,2256],629,11.3,2390,540,f1cKX,f1cKY);
f1panel('fig1-panel-high',[1815,742,2103,928],[0.81,0.98],[30,718],f1dX,f1dY,f1dXT,f1dXL,f1dYT,f1dYL,
  [['tri','#a0a','OLYA'],['sq','#c4c','CMD'],['oc','#33c','CMD2 03'],['fc','#800','CMD2 06'],['tri','#e00','KLOE08'],['otri','#e44','KLOE10']],
  [['sq','#e33','KLOE12'],['fc','#a22','BES'],['oc','#383','SND'],['tri','#1a1','DM1'],['oc','#111','BABAR'],['band','','Combined']],[1967,2035],762,13,1866,772);
f1panel('fig1-panel-tail',[2175,742,2462,928],[0.979,2.0],[0,76.6],f1eX,f1eY,f1eXT,f1eXL,f1eYT,f1eYL,
  [['tri','#a0a','OLYA'],['fc','#800','CMD2 06'],['tri','#1a1','DM1']],
  [['dtri','#e11','DM2'],['oc','#111','BABAR'],['band','','Combined']],[2327,2395],763,15.5,2209,770);

// ===== Fig.2 ratio panels =====
function f2panel(name,box,sets,legs,lx,ly){
  const sx=lin(0.49,1.0,box[0],box[2]), sy=lin(-0.15,0.15,box[3],box[1]);
  const g=mk('g',{});
  
  
  bandAbs(g,f2BandX,f2BandW,sx,sy,box);
  sets.forEach(s=>series(g,s[0],s[1],s[2],sx,sy,s[3],box));
  axes(name+'-axes',box,sx,sy,f2XT,f2XL,f2YT,f2YL,{fs:10.5,tl:7,xto:29,tfs:11,ytx:box[0]-30,ytfs:10,ytitle:'Cross section(exp) / Combination - 1'});
  proc(g,(box[0]+box[2])/2-18,box[1]+19,11);
  legs.forEach((e,i)=>leg(g,lx[i%2?1:0]+0,ly+Math.floor(i/2)*12,e[0],e[1],e[2],10.5,1.5));
}
f2panel('fig2-babar',[2663,134,2949,326],[['babar',babarX,babarY,{shape:'fc',color:'#111',r:1.4,err:0.022,ec:'#777'}]],[['fc','#111','BABAR'],['band','','Combined']],[2798,2872],313);
f2panel('fig2-kloe',[3022,134,3306,326],[['kloe10',kloe10X,kloe10Y,{shape:'otri',color:'#33c',r:1.5,err:0.025}],['kloe12',kloe12X,kloe12Y,{shape:'oc',color:'#111',r:1.5,err:0.015}],['kloe08',kloe08X,kloe08Y,{shape:'tri',color:'#e00',r:1.5,err:0.012}]],[['tri','#e00','KLOE08'],['oc','#111','KLOE12'],['otri','#33c','KLOE10'],['band','','Combined']],[3156,3233],301);
f2panel('fig2-bes',[2664,373,2950,565],[['bes',besX,besY,{shape:'fc',color:'#33c',r:1.6,err:0.03,ec:'#66f'}]],[['fc','#33c','BES'],['band','','Combined']],[2798,2872],552);
f2panel('fig2-cmd2-snd',[3024,373,3310,565],[['snd',sndX,sndY,{shape:'oc',color:'#33c',r:1.4,err:0.045,ec:'#66f'}],['cmd203',cmd203X,cmd203Y,{shape:'oc',color:'#c33',r:1.6,err:0.045,ec:'#c66'}],['cmd206',cmd206X,cmd206Y,{shape:'fc',color:'#900',r:1.6,err:0.03,ec:'#c66'}]],[['fc','#900','CMD2 06'],['oc','#33c','SND'],['oc','#c33','CMD2 03'],['band','','Combined']],[3156,3235],540);

// ===== Fig.3 left: weights =====
(function(){
  const box=[3503,134,3797,326];
  const sx=lin(0.3,1.8,box[0],box[2]), sy=lin(0,1.103,box[3],box[1]);
  const g=mk('g',{});
  
  
  const h=mk('line',{x1:box[0],x2:box[2],y1:sy(1),y2:sy(1),stroke:'#999','stroke-width':0.8},g);
  
  
  curve(g,'other-exp-line',wOtherX,wOtherY,sx,sy,{color:'#e0e',w:1.6,dash:'3,2'});
  curve(g,'kloe10-line',wKloe10X,wKloe10Y,sx,sy,{color:'#a76',w:1,dash:'1.5,1.5'});
  curve(g,'kloe12-line',wKloe12X,wKloe12Y,sx,sy,{color:'#9c9',w:1,dash:'1.5,1.5'});
  curve(g,'kloe08-line',wKloe08X,wKloe08Y,sx,sy,{color:'#22d',w:1,dash:'2,1.5'});
  curve(g,'snd-line',wSndX,wSndY,sx,sy,{color:'#e22',w:1.4});
  curve(g,'cmd206-line',wCmd206X,wCmd206Y,sx,sy,{color:'#063',w:1.5,dash:'5,2,1,2'});
  curve(g,'babar-line',wBabarX,wBabarY,sx,sy,{color:'#000',w:1.3});
  axes('fig3-weights-axes',box,sx,sy,f3aXT,f3aXL,f3aYT,f3aYL,{fs:11,tl:7,xto:30,tfs:11,ytx:3475,ytfs:11,ytitle:'Relative weight in combination',xm:4,ym:4});
  proc(g,3552,170,11);
  const items=[[{c:'#000'},'BABAR'],[{c:'#22d',d:'2,1.5'},'KLOE08'],[{c:'#a76',d:'1.5,1.5'},'KLOE10'],[{c:'#9c9',d:'1.5,1.5'},'KLOE12'],[{c:'#333',d:'3,2,1,2'},'BES'],[{c:'#e22',d:'2,1'},'SND'],[{c:'#393',d:'2,1'},'CMD2 03'],[{c:'#063',d:'5,2,1,2'},'CMD2 06'],[{c:'#e0e',d:'3,2'},'Other exp']];
  items.forEach((e,i)=>leg(g,3737,194+i*12.1,'line',e[0],e[1],11));
})();
// ===== Fig.3 right: scale factor =====
(function(){
  const box=[3863,134,4156,326];
  const sx=lin(0.3,2.0,box[0],box[2]), sy=lin(1,3.25,box[3],box[1]);
  const g=mk('g',{});
  
  
  curve(g,'scale-factor-line',sfX,sfY,sx,sy,{color:'#222',w:0.9});
  axes('fig3-scale-axes',box,sx,sy,f3bXT,f3bXL,f3bYT,f3bYL,{fs:11,tl:7,xto:30,tfs:11,ytx:3838,ytfs:11,ytitle:'Error scale factor',xm:4,ym:2});
  proc(g,4062,165,11);
})();
// ===== Fig.4 =====
(function(){
  const box=[3510,448,3795,641];
  const sx=lin(0.6,2.5,box[0],box[2]), sy=lg(Math.pow(10,-1.23),Math.pow(10,3.63),box[3],box[1]);
  const g=mk('g',{});
  
  
  bandRel(g,f4X,f4Y,f4B,sx,sy,box);
  series(g,'combined-points',f4X,f4Y,sx,sy,{shape:'oc',color:'#111',r:1.7,err:0.3,rel:true,ec:'#153'},box);
  series(g,'cmd2-points',f4X.slice(3,17),f4Y.slice(3,17),sx,sy,{shape:'fc',color:'#a00',r:2.1},box);
  axes('fig4-axes',box,sx,sy,f4XT,f4XL,logYT,logYL,{fs:11,tl:7,xto:28,tfs:11.5,ytx:3481,ytfs:11.5,xm:4});
  proc(g,3715,530,12,true);
  leg(g,3664,473,'tri','#1a1','DM1',11,1.5);
  leg(g,3664,491,'fc','#063','SND',11,1.5);
  leg(g,3664,510,'sq','#c4c','CMD',11,1.5);
  leg(g,3729,473,'fc','#a00','CMD2',11,1.5);
  leg(g,3729,491,'oc','#111','BABAR',11,1.5);
  leg(g,3729,510,'band','','Combined',11);
})();
</script>
</body></html>
